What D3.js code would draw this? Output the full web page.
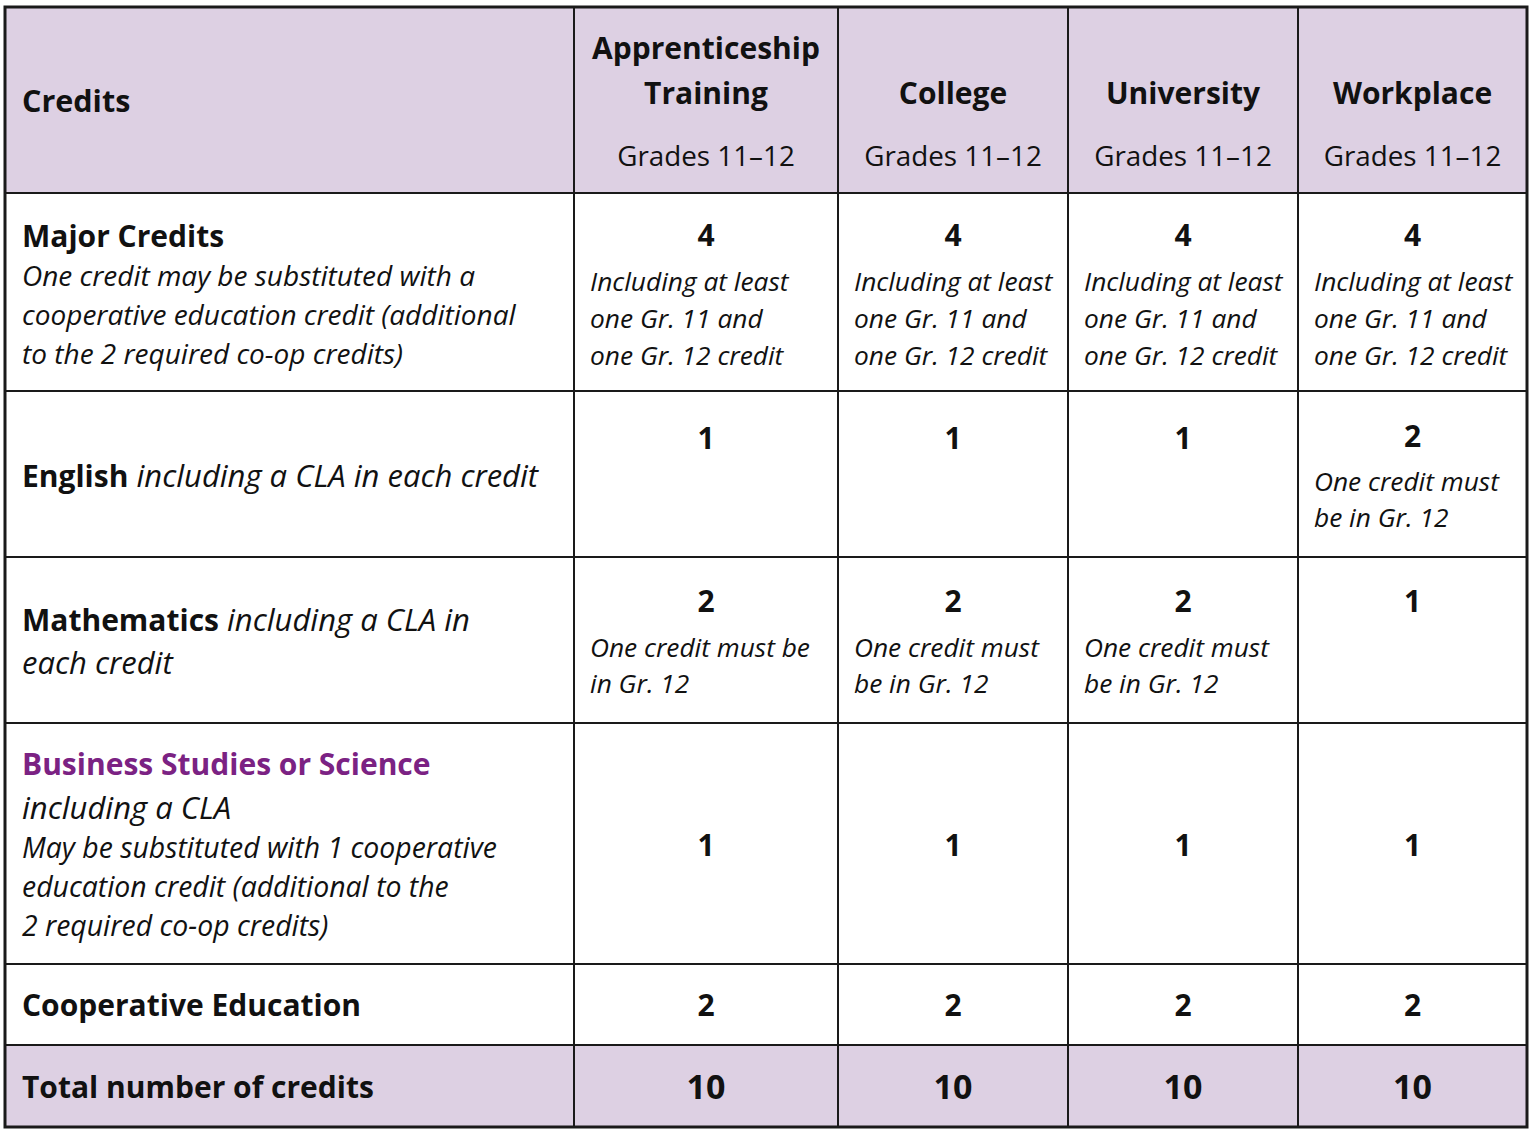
<!DOCTYPE html>
<html>
<head>
<meta charset="utf-8">
<script src="https://cdn.jsdelivr.net/npm/d3@7"></script>
<style>
  html, body { margin: 0; padding: 0; background: #fff; }
  svg { display: block; }
  text { font-family: "Open Sans", "Noto Sans", sans-serif; fill: #111; }
</style>
</head>
<body>
<svg id="chart" width="1533" height="1132"></svg>
<script>
// ---------- data ----------
const columns = ["Apprenticeship Training", "College", "University", "Workplace"];
const columnHeaderLines = [["Apprenticeship", "Training"], ["College"], ["University"], ["Workplace"]];
const gradeLabel = "Grades 11–12";
const firstHeader = "Credits";

const rowCategories = ["Major Credits", "English", "Mathematics", "Business Studies or Science", "Cooperative Education", "Total number of credits"];

const majorCredits = [4, 4, 4, 4];
const englishCredits = [1, 1, 1, 2];
const mathCredits = [2, 2, 2, 1];
const businessScienceCredits = [1, 1, 1, 1];
const coopCredits = [2, 2, 2, 2];
const totalCredits = [10, 10, 10, 10];

const majorNotes = [
  ["Including at least", "one Gr. 11 and", "one Gr. 12 credit"],
  ["Including at least", "one Gr. 11 and", "one Gr. 12 credit"],
  ["Including at least", "one Gr. 11 and", "one Gr. 12 credit"],
  ["Including at least", "one Gr. 11 and", "one Gr. 12 credit"]
];
const englishNotes = [[], [], [], ["One credit must", "be in Gr. 12"]];
const mathNotes = [["One credit must be", "in Gr. 12"], ["One credit must", "be in Gr. 12"], ["One credit must", "be in Gr. 12"], []];

const majorDesc = ["One credit may be substituted with a", "cooperative education credit (additional", "to the 2 required co-op credits)"];
const englishDesc = "including a CLA in each credit";
const mathDesc = ["including a CLA in", "each credit"];
const businessDesc = ["including a CLA", "May be substituted with 1 cooperative", "education credit (additional to the", "2 required co-op credits)"];

// ---------- layout ----------
const svg = d3.select("#chart");
const LAV = "#ddd0e3", PURPLE = "#7b2283", LINE = "#1a1a1a";

const colEdges = [5, 574, 838, 1068, 1298, 1527];
const rowEdges = [7, 193, 391, 557, 723, 964, 1045, 1127];

const xLeft = d3.scaleOrdinal().domain(["label", ...columns]).range(colEdges.slice(0, 5));
const xRight = d3.scaleOrdinal().domain(["label", ...columns]).range(colEdges.slice(1));
const xMid = c => (xLeft(c) + xRight(c)) / 2;
const yTop = d3.scaleOrdinal().domain(["header", ...rowCategories]).range(rowEdges.slice(0, 7));
const yBot = d3.scaleOrdinal().domain(["header", ...rowCategories]).range(rowEdges.slice(1));

// backgrounds
const shaded = ["header", "Total number of credits"];
svg.selectAll("rect.bg").data(shaded).join("rect")
  .attr("x", colEdges[0]).attr("width", colEdges[5] - colEdges[0])
  .attr("y", d => yTop(d)).attr("height", d => yBot(d) - yTop(d))
  .attr("fill", LAV);

function txt(x, y, s, opts = {}) {
  return svg.append("text")
    .attr("x", x).attr("y", y).attr("dy", "0.36em")
    .attr("text-anchor", opts.anchor || "start")
    .style("font-size", (opts.size || 26) + "px")
    .style("font-weight", opts.bold ? 700 : 400)
    .style("font-style", opts.italic ? "italic" : "normal")
    .style("fill", opts.fill || "#111")
    .text(s);
}

// header
const LX = 22;
const B = 30;       // bold label size
const DI = 28;      // description italic size
txt(LX, yTop("header") + 94, firstHeader, { bold: true, size: 30.5 });
columns.forEach((c, i) => {
  const lines = columnHeaderLines[i];
  const ys = lines.length === 2 ? [41, 86] : [86];
  lines.forEach((l, j) => txt(xMid(c), yTop("header") + ys[j], l, { bold: true, size: 30, anchor: "middle" }));
  txt(xMid(c), yTop("header") + 149, gradeLabel, { size: 27.8, anchor: "middle" });
});

// row labels
const r1 = yTop("Major Credits");
txt(LX, r1 + 43, "Major Credits", { bold: true, size: B });
majorDesc.forEach((l, j) => txt(LX, r1 + 83 + j * 39, l, { italic: true, size: DI }));

const r2 = yTop("English");
const eng = txt(LX, r2 + 85, "English", { bold: true, size: 30 });
eng.append("tspan").style("font-weight", 400).style("font-style", "italic").style("font-size", "31px").text(" " + englishDesc);

const r3 = yTop("Mathematics");
const m = txt(LX, r3 + 63, "Mathematics", { bold: true, size: 30 });
m.append("tspan").style("font-weight", 400).style("font-style", "italic").style("font-size", "31px").text(" " + mathDesc[0]);
txt(LX, r3 + 106, mathDesc[1], { italic: true, size: 31 });

const r4 = yTop("Business Studies or Science");
txt(LX, r4 + 41, "Business Studies or Science", { bold: true, size: B, fill: PURPLE });
txt(LX, r4 + 85, businessDesc[0], { italic: true, size: 31 });
businessDesc.slice(1).forEach((l, j) => txt(LX, r4 + 125 + j * 39, l, { italic: true, size: 28.4 }));

txt(LX, yTop("Cooperative Education") + 41, "Cooperative Education", { bold: true, size: B });
txt(LX, yTop("Total number of credits") + 42, "Total number of credits", { bold: true, size: B });

// value cells
function cellRow(rowKey, values, notes, numOff, noteOff, noteGap, opts = {}) {
  const top = yTop(rowKey);
  columns.forEach((c, i) => {
    const hasNote = notes && notes[i] && notes[i].length;
    const off = (hasNote && opts.numOffNote !== undefined) ? opts.numOffNote : numOff;
    txt(xMid(c), top + off, String(values[i]), { bold: true, size: opts.numSize || 30, anchor: "middle" });
    if (hasNote) {
      notes[i].forEach((l, j) => txt(xLeft(c) + 16, top + noteOff + j * noteGap, l, { italic: true, size: 26.3 }));
    }
  });
}
cellRow("Major Credits", majorCredits, majorNotes, 42, 89, 37);
cellRow("English", englishCredits, englishNotes, 47, 91, 36, { numOffNote: 45 });
cellRow("Mathematics", mathCredits, mathNotes, 44, 91, 36, { numOffNote: 44 });
cellRow("Business Studies or Science", businessScienceCredits, null, 122, 0, 0);
cellRow("Cooperative Education", coopCredits, null, 41, 0, 0);
cellRow("Total number of credits", totalCredits, null, 42, 0, 0, { numSize: 34 });

// grid lines
svg.selectAll("line.h").data(rowEdges.slice(1, -1)).join("line")
  .attr("x1", colEdges[0]).attr("x2", colEdges[5])
  .attr("y1", d => d).attr("y2", d => d)
  .attr("stroke", LINE).attr("stroke-width", 2);
svg.selectAll("line.v").data(colEdges.slice(1, -1)).join("line")
  .attr("y1", rowEdges[0]).attr("y2", rowEdges[7])
  .attr("x1", d => d).attr("x2", d => d)
  .attr("stroke", LINE).attr("stroke-width", 2);
svg.append("rect")
  .attr("x", colEdges[0]).attr("y", rowEdges[0])
  .attr("width", colEdges[5] - colEdges[0]).attr("height", rowEdges[7] - rowEdges[0])
  .attr("fill", "none").attr("stroke", LINE).attr("stroke-width", 3);
</script>
</body>
</html>
